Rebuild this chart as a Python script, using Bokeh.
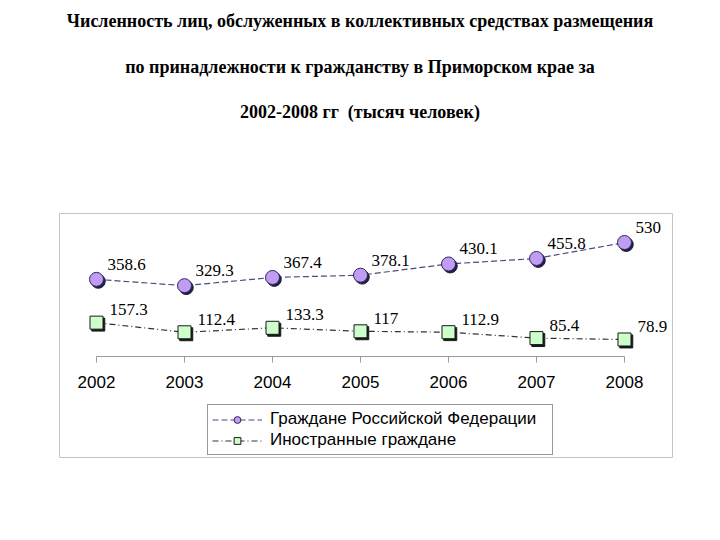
from bokeh.plotting import figure
from bokeh.models import (Div, LinearAxis, FixedTicker, Legend, LegendItem,
                          ColumnDataSource, Range1d)
from bokeh.layouts import column
from bokeh.transform import dodge
from bokeh.embed import file_html
from bokeh.resources import INLINE

# ---- data ----
years = [2002, 2003, 2004, 2005, 2006, 2007, 2008]
russians = [358.6, 329.3, 367.4, 378.1, 430.1, 455.8, 530]
foreigners = [157.3, 112.4, 133.3, 117, 112.9, 85.4, 78.9]
russians_labels = ["358.6", "329.3", "367.4", "378.1", "430.1", "455.8", "530"]
foreigners_labels = ["157.3", "112.4", "133.3", "117", "112.9", "85.4", "78.9"]
series_names = ["Граждане Российской Федерации", "Иностранные граждане"]
title_lines = ["Численность лиц, обслуженных в коллективных средствах размещения",
               "по принадлежности к гражданству в Приморском крае за",
               "2002-2008 гг&nbsp; (тысяч человек)"]

FONT = "Liberation Sans"

title_html = (
    '<div style="width:704px;text-align:center;font-family:\'Liberation Serif\',serif;'
    'font-weight:bold;font-size:18px;color:#000;">'
    f'<div style="line-height:26px;height:26px;white-space:nowrap;">{title_lines[0]}</div>'
    f'<div style="line-height:26px;height:26px;margin-top:20px;white-space:nowrap;">{title_lines[1]}</div>'
    f'<div style="line-height:26px;height:26px;margin-top:19px;white-space:nowrap;">{title_lines[2]}</div>'
    '</div>'
)
div = Div(text=title_html, width=704, height=130, margin=0)

src_r = ColumnDataSource(dict(x=years, y=russians, t=russians_labels))
src_f = ColumnDataSource(dict(x=years, y=foreigners, t=foreigners_labels))

p = figure(width=684, height=339, output_backend="svg", toolbar_location=None,
           x_range=Range1d(2001.5795, 2008.5455), y_range=Range1d(-470, 665),
           x_axis_location=None, y_axis_location=None,
           min_border_left=51, min_border_right=20, min_border_top=75,
           min_border_bottom=20, margin=0)
p.grid.visible = False
p.outline_line_color = "#C4C4C4"
p.outline_line_width = 1
p.background_fill_color = "white"
p.border_fill_color = "white"

axis = LinearAxis(fixed_location=0, ticker=FixedTicker(ticks=years), bounds=(2002, 2008))
axis.axis_line_color = "#9A9A9A"
axis.major_tick_line_color = "#9A9A9A"
axis.major_tick_in = 0
axis.major_tick_out = 6
axis.minor_tick_line_color = None
axis.major_label_text_font = FONT
axis.major_label_text_font_size = "17px"
axis.major_label_text_color = "black"
axis.major_label_standoff = 14
p.add_layout(axis, "below")

# lines
lr = p.line("x", "y", source=src_r, line_color="#4B4B7E", line_width=1.2, line_dash="6 3")
lf = p.line("x", "y", source=src_f, line_color="#333333", line_width=1.2, line_dash="6 3 1 3")

# shadows
p.scatter(dodge("x", 0.02, range=p.x_range), dodge("y", -9, range=p.y_range), source=src_r,
          marker="circle", size=14, fill_color="#1E1E46", line_color="#1E1E46")
p.scatter(dodge("x", 0.02, range=p.x_range), dodge("y", -9, range=p.y_range), source=src_f,
          marker="square", size=13, fill_color="#1A1A1A", line_color="#1A1A1A")

sr = p.scatter("x", "y", source=src_r, marker="circle", size=14,
               fill_color="#C09CF2", line_color="#2A2A5A", line_width=1)
sf = p.scatter("x", "y", source=src_f, marker="square", size=13,
               fill_color="#CCFFCC", line_color="#1A1A1A", line_width=1)

# data labels
p.text("x", "y", text="t", source=src_r, x_offset=11, y_offset=-15,
       text_font="Liberation Sans", text_font_size="17px", text_color="black",
       text_align="left", text_baseline="middle")
p.text("x", "y", text="t", source=src_f, x_offset=13, y_offset=-13,
       text_font="Liberation Sans", text_font_size="17px", text_color="black",
       text_align="left", text_baseline="middle")

legend = Legend(items=[LegendItem(label=series_names[0], renderers=[lr, sr]),
                       LegendItem(label=series_names[1], renderers=[lf, sf])],
                location=(148, 2), orientation="vertical")
legend.glyph_width = 50
legend.glyph_height = 17
legend.label_height = 17
legend.label_standoff = 8
legend.label_text_font = FONT
legend.label_text_font_size = "17px"
legend.label_text_color = "black"
legend.padding = 4
legend.spacing = 1
legend.margin = 0
legend.border_line_color = "#333333"
legend.border_line_width = 1
legend.background_fill_color = "white"
legend.background_fill_alpha = 1
legend.label_width = 278
p.add_layout(legend)

layout = column(div, p, spacing=0, margin=(8, 0, 0, 8))
open("out.html", "w").write(file_html(layout, INLINE))
